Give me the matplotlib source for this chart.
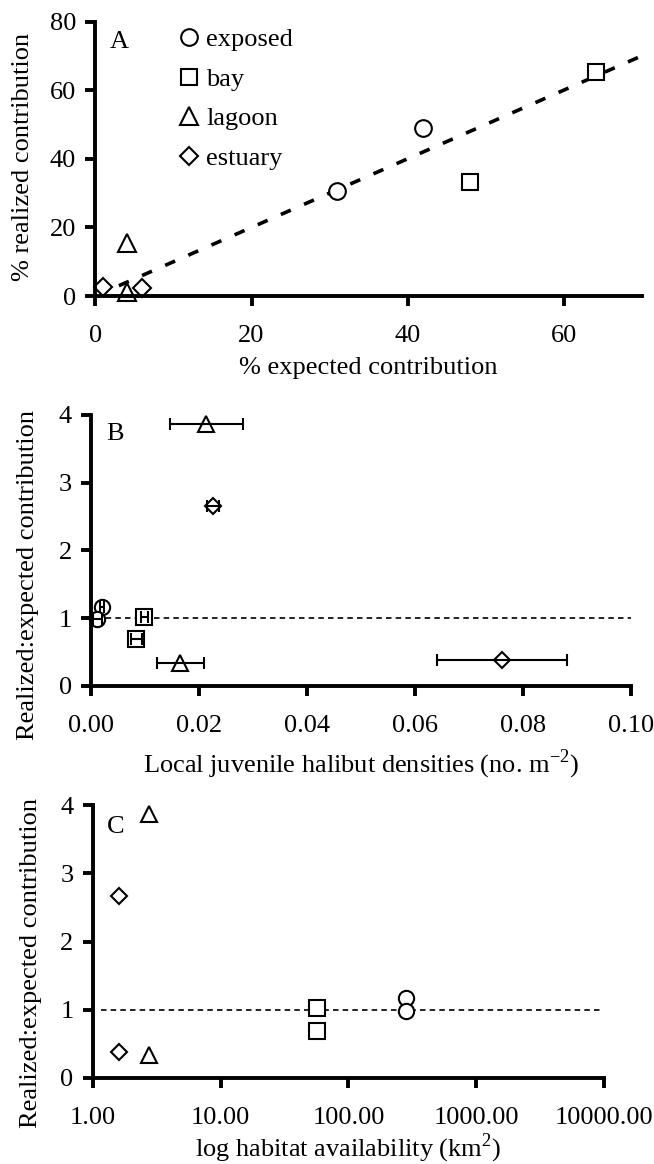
import numpy as np
import matplotlib
matplotlib.use('Agg')
import matplotlib.pyplot as plt
from matplotlib.ticker import FixedLocator, FixedFormatter

plt.rcParams['font.family'] = ['Liberation Serif', 'DejaVu Serif']
plt.rcParams['font.size'] = 19
plt.rcParams['mathtext.fontset'] = 'custom'
plt.rcParams['mathtext.rm'] = 'Liberation Serif'

habitats = ['exposed', 'bay', 'lagoon', 'estuary']
markers = {'exposed': 'o', 'bay': 's', 'lagoon': '^', 'estuary': 'D'}

# panel A: % expected vs % realized contribution
a_expected = {'exposed': [31, 42], 'bay': [48, 64.2], 'lagoon': [4, 4], 'estuary': [0.9, 6]}
a_realized = {'exposed': [30.5, 49], 'bay': [33.3, 65.4], 'lagoon': [15.5, 1.2], 'estuary': [2.7, 2.3]}
a_line_x = [3, 70]

# panel B: density vs realized:expected ratio (with horizontal error bars)
ratio = {'exposed': [1.17, 0.98], 'bay': [1.02, 0.69], 'lagoon': [3.87, 0.33], 'estuary': [2.66, 0.38]}
b_density = {'exposed': [0.0020, 0.0011], 'bay': [0.0098, 0.0083], 'lagoon': [0.0213, 0.0165], 'estuary': [0.0225, 0.0761]}
b_err = {'exposed': [0.0004, 0.0009], 'bay': [0.0007, 0.0010], 'lagoon': [0.0068, 0.0044], 'estuary': [0.0011, 0.0120]}

# panel C: habitat availability (km2)
c_area = {'exposed': [281, 281], 'bay': [57, 57], 'lagoon': [2.73, 2.73], 'estuary': [1.61, 1.61]}

b_ticks = [0, 0.02, 0.04, 0.06, 0.08, 0.10]
c_ticks = [1, 10, 100, 1000, 10000]

sizes = {'exposed': 12, 'bay': 12, 'lagoon': 13, 'estuary': 9.5}

fig = plt.figure(figsize=(6.54, 11.64), dpi=100)
axA = fig.add_axes([0.146, 0.7457, 0.835, 0.2357])
axB = fig.add_axes([0.1398, 0.4109, 0.8252, 0.2326])
axC = fig.add_axes([0.142, 0.0739, 0.7815, 0.2345])


def style(ax):
    for s in ['top', 'right']:
        ax.spines[s].set_visible(False)
    for s in ['left', 'bottom']:
        ax.spines[s].set_linewidth(2.8)
    ax.tick_params(direction='out', length=7, width=2.8, pad=7, labelsize=19)
    ax.tick_params(axis='x', pad=14)


mk = dict(markerfacecolor='white', markeredgecolor='black',
          markeredgewidth=1.5, linestyle='none', clip_on=False)

# ---- A
style(axA)
axA.plot(a_line_x, a_line_x, color='black', lw=2.6, dashes=(3, 4), zorder=1)
for h in habitats:
    axA.plot(a_expected[h], a_realized[h], marker=markers[h], label=h, markersize=sizes[h], **mk)
axA.set_xlim(0, 70)
axA.set_ylim(0, 80)
axA.set_xticks([0, 20, 40, 60])
axA.set_yticks([0, 20, 40, 60, 80])
axA.set_xlabel('% expected contribution', labelpad=7)
axA.set_ylabel('% realized contribution')
axA.yaxis.set_label_coords(-0.112, 0.507)
axA.text(0.027, 0.925, 'A', transform=axA.transAxes, va='center', ha='left')
leg = axA.legend(loc='upper left', bbox_to_anchor=(0.135, 1.016), frameon=False, fontsize=19,
                 handlelength=0.7, handletextpad=0.3, labelspacing=0.61, borderaxespad=0)

# ---- B
style(axB)
axB.plot([0.0009, 0.1], [1, 1], color='black', lw=1.2, dashes=(3.3, 2.5), zorder=1)
for h in habitats:
    axB.plot(b_density[h], ratio[h], marker=markers[h], markersize=sizes[h] - 1, zorder=2, **mk)
    axB.errorbar(b_density[h], ratio[h], xerr=b_err[h], fmt='none', ecolor='black',
                 elinewidth=1.5, capsize=4, capthick=1.5, zorder=3)
axB.set_xlim(0, 0.1)
axB.set_ylim(0, 4)
axB.xaxis.set_major_locator(FixedLocator(b_ticks))
axB.xaxis.set_major_formatter(FixedFormatter(['%.2f' % t for t in b_ticks]))
axB.set_yticks([0, 1, 2, 3, 4])
axB.set_xlabel('Local juvenile halibut densities (no. m$^{-2}$)', labelpad=8)
axB.set_ylabel('Realized:expected contribution')
axB.yaxis.set_label_coords(-0.097, 0.41)
axB.text(0.027, 0.93, 'B', transform=axB.transAxes, va='center', ha='left')

# ---- C
style(axC)
axC.set_xscale('log')
axC.plot([1.15, 9500], [1, 1], color='black', lw=1.2, dashes=(3.3, 2.5), zorder=1)
for h in habitats:
    axC.plot(c_area[h], ratio[h], marker=markers[h], markersize=sizes[h] - 1, **mk)
axC.set_xlim(1, 10000)
axC.set_ylim(0, 4)
axC.xaxis.set_major_locator(FixedLocator(c_ticks))
axC.xaxis.set_major_formatter(FixedFormatter(['%.2f' % t for t in c_ticks]))
axC.xaxis.set_minor_locator(FixedLocator([]))
axC.set_yticks([0, 1, 2, 3, 4])
axC.set_xlabel('log habitat availability (km$^{2}$)', labelpad=2)
axC.set_ylabel('Realized:expected contribution')
axC.yaxis.set_label_coords(-0.1, 0.42)
axC.text(0.027, 0.92, 'C', transform=axC.transAxes, va='center', ha='left')

fig.savefig('out.png', dpi=100)
